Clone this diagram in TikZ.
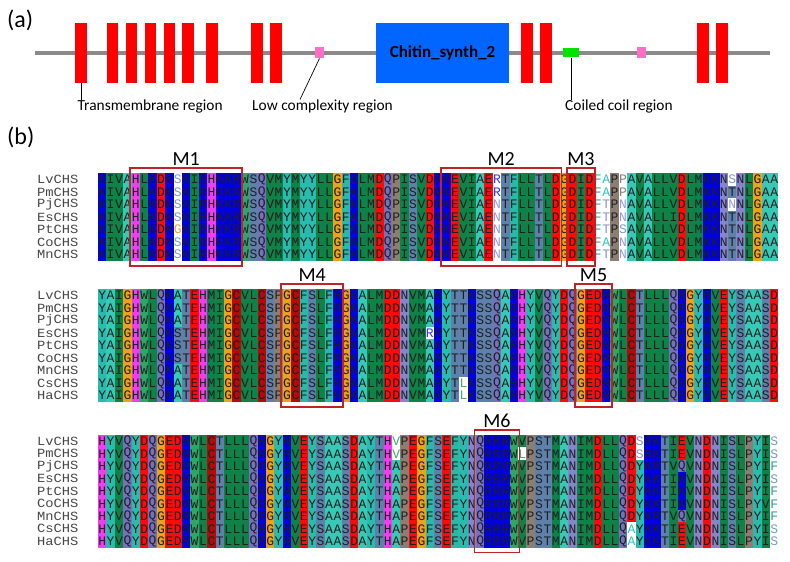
\documentclass[tikz,border=0pt]{standalone}
\usepackage{fontspec}
\setmainfont{Carlito}
\newfontfamily\seqfont{Liberation Mono}
\newfontfamily\labfont[FakeStretch=1.1]{Liberation Mono}
\usetikzlibrary{fit}

% background colours of residues (conserved cells)
\definecolor{bgA}{HTML}{38C8B6}
\definecolor{bgC}{HTML}{B40A0A}
\definecolor{bgD}{HTML}{FF0A0A}
\definecolor{bgE}{HTML}{FF0A0A}
\definecolor{bgF}{HTML}{2BB8A8}
\definecolor{bgG}{HTML}{ECA21C}
\definecolor{bgH}{HTML}{EE3FEE}
\definecolor{bgI}{HTML}{0E8247}
\definecolor{bgL}{HTML}{0E8247}
\definecolor{bgM}{HTML}{0E8247}
\definecolor{bgV}{HTML}{0E8247}
\definecolor{bgK}{HTML}{0000E0}
\definecolor{bgR}{HTML}{0000E0}
\definecolor{bgN}{HTML}{8585CC}
\definecolor{bgP}{HTML}{8C7E72}
\definecolor{bgQ}{HTML}{7472BF}
\definecolor{bgS}{HTML}{5E81AC}
\definecolor{bgT}{HTML}{5E81AC}
\definecolor{bgW}{HTML}{2FA566}
\definecolor{bgY}{HTML}{27BCAD}
% text colours of residues on white cells
\definecolor{fgA}{HTML}{2EC4C4}
\definecolor{fgC}{HTML}{C03030}
\definecolor{fgD}{HTML}{E01010}
\definecolor{fgE}{HTML}{E01010}
\definecolor{fgF}{HTML}{2A9A95}
\definecolor{fgG}{HTML}{EFA030}
\definecolor{fgH}{HTML}{D040D0}
\definecolor{fgI}{HTML}{45AA70}
\definecolor{fgL}{HTML}{45AA70}
\definecolor{fgM}{HTML}{45AA70}
\definecolor{fgV}{HTML}{45AA70}
\definecolor{fgK}{HTML}{3535F5}
\definecolor{fgR}{HTML}{3535F5}
\definecolor{fgN}{HTML}{9898D8}
\definecolor{fgP}{HTML}{8C7E72}
\definecolor{fgQ}{HTML}{8484CC}
\definecolor{fgS}{HTML}{7A9AC8}
\definecolor{fgT}{HTML}{8A92C8}
\definecolor{fgW}{HTML}{45AA70}
\definecolor{fgY}{HTML}{2EC4C4}
\definecolor{motifred}{HTML}{BE2328}
\definecolor{tmred}{HTML}{FF0000}
\definecolor{domblue}{HTML}{0066FF}
\definecolor{lcpink}{HTML}{FF6EC7}
\definecolor{ccgreen}{HTML}{00E400}
\definecolor{bbgrey}{HTML}{8A8A8A}

\newcount\seqcol
\def\seqrow#1#2#3#4{\def\seqblk{#1}\def\seqrw{#2}\def\seqtop{#3}\seqcol=0 \seqloop#4\relax}
\def\seqloop#1{\ifx\relax#1\else\seqcell#1\expandafter\seqloop\fi}
\def\seqcell#1{\ifnum`#1>`Z\relax\uppercase{\seqW#1}\else\seqC#1\fi\advance\seqcol by 1\relax}
\def\seqW#1{\node[cell, fill=white, text=fg#1] (\seqblk-\seqrw-\the\seqcol) at ({98+8.4*\the\seqcol+4.2},{\seqtop+12.5*\seqrw+6.25}) {#1};}
\def\seqC#1{\node[cell, fill=bg#1, text=black!88] (\seqblk-\seqrw-\the\seqcol) at ({98+8.4*\the\seqcol+4.2},{\seqtop+12.5*\seqrw+6.25}) {#1};}
\def\rowlabel#1#2#3#4{\node[rowlab] (#1-lab-#2) at (37,{#3+12.5*#2+6.25}) {#4};}

\tikzset{
  cell/.style={inner sep=0pt, outer sep=0pt, minimum width=8.45pt, minimum height=12.55pt,
    font=\seqfont\fontsize{13}{13}\selectfont},
  rowlab/.style={anchor=west, inner sep=0pt, font=\labfont\fontsize{12.5}{12.5}\selectfont, text=black!72},
  motif/.style={draw=motifred, line width=1.8pt, inner xsep=1.5pt, inner ysep=5pt},
  motiflab/.style={anchor=south, inner sep=1.5pt, font=\fontsize{20}{20}\selectfont},
  panel/.style={anchor=west, inner sep=0pt, font=\fontsize{24}{24}\selectfont},
  backbone/.style={draw=bbgrey, line width=4.5pt},
  tm/.style={fill=tmred, minimum width=11.5pt, minimum height=60pt, inner sep=0pt},
  lcbox/.style={fill=lcpink, minimum width=9pt, minimum height=11.5pt, inner sep=0pt},
  ccbox/.style={fill=ccgreen, minimum width=15.5pt, minimum height=9pt, inner sep=0pt},
  dombox/.style={fill=domblue, minimum width=133pt, minimum height=60pt, inner sep=0pt,
    font=\bfseries\fontsize{17}{17}\selectfont},
  annot/.style={inner sep=0pt, font=\fontsize{15.4}{15.4}\selectfont},
  leader/.style={draw=black, line width=0.7pt}
}

\begin{document}
\begin{tikzpicture}[x=1pt, y=-1pt]
\useasboundingbox (0,0) rectangle (790,562);
\fill[white] (0,0) rectangle (790,562);

% ---------------- (a) ----------------
\node[panel] (pa) at (7,20) {(a)};
\coordinate (bbL) at (35,53);
\coordinate (bbR) at (770,53);
\draw[backbone] (bbL) -- (bbR);
\foreach \i/\x in {1/81,2/112.5,3/131.5,4/150.5,5/169.5,6/188,7/212,8/257,9/276,10/527,11/546,12/703,13/722}
  \node[tm] (tm\i) at (\x,52.7) {};
\node[lcbox] (lc1) at (319.5,52.5) {};
\node[lcbox] (lc2) at (641,52.5) {};
\node[ccbox] (cc1) at (571,52.8) {};
\node[dombox] (chs) at (442.5,52.7) {Chitin\_synth\_2};

\node[annot, anchor=north west] (tmlab) at (77.5,100) {Transmembrane region};
\draw[leader] (tm1.south) -- (tm1.south |- tmlab.north);
\node[annot, anchor=north] (lclab) at (322.5,100) {Low complexity region};
\coordinate (lcend) at (300,99.5);
\draw[leader] (lc1.south) -- (lcend);
\node[annot, anchor=north west] (cclab) at (565,100) {Coiled coil region};
\draw[leader] (cc1.south) -- (cc1.south |- cclab.north);

% ---------------- (b) ----------------
\node[panel] (pb) at (7,137) {(b)};

% block 1
\def\topA{173.3}
\rowlabel{b1}{0}{\topA}{LvCHS}
\rowlabel{b1}{1}{\topA}{PmCHS}
\rowlabel{b1}{2}{\topA}{PjCHS}
\rowlabel{b1}{3}{\topA}{EsCHS}
\rowlabel{b1}{4}{\topA}{PtCHS}
\rowlabel{b1}{5}{\topA}{CoCHS}
\rowlabel{b1}{6}{\topA}{MnCHS}
\seqrow{b1}{0}{\topA}{KIVAHLKDKsKIRHKKRWSQVMYMYYLLGFKLMDQPISVDRKEVIAErTFLLTLDGDIDfaPpAVALLVDLMKKNsNLGAA}
\seqrow{b1}{1}{\topA}{KIVAHLKDKsKIRHKKRWSQVMYMYYLLGFKLMDQPISVDRKEVIAErTFLLTLDGDIDfaPpAVALLVDLMKKNTNLGAA}
\seqrow{b1}{2}{\topA}{KIVAHLKDKsKIRHKKRWSQVMYMYYLLGFKLMDQPISVDRKEVIAEnTFLLTLDGDIDftPnAVALLVDLMKKNnNLGAA}
\seqrow{b1}{3}{\topA}{KIVAHLKDKsKIRHKKRWSQVMYMYYLLGFKLMDQPISVDRKEVIAEnTFLLTLDGDIDftPnAVALLIDLMKKNTNLGAA}
\seqrow{b1}{4}{\topA}{KIVAHLKDKgKIRHKKRWSQVMYMYYLLGFKLMDQPISVDRKEVIAEnTFLLTLDGDIDftPsAVALLVDLMKKNTNLGAA}
\seqrow{b1}{5}{\topA}{KIVAHLKDKsKIRHKKRWSQVMYMYYLLGFKLMDQPISVDRKEVIAEnTFLLTLDGDIDfaPnAVALLVDLMKKNTNLGAA}
\seqrow{b1}{6}{\topA}{KIVAHLKDKsKIRHKKRWSQVMYMYYLLGFKLMDQPISVDRKEVIAEnTFLLTLDGDIDftPnAVALLVDLMKKNTNLGAA}

% block 2
\def\topB{289.3}
\rowlabel{b2}{0}{\topB}{LvCHS}
\rowlabel{b2}{1}{\topB}{PmCHS}
\rowlabel{b2}{2}{\topB}{PjCHS}
\rowlabel{b2}{3}{\topB}{EsCHS}
\rowlabel{b2}{4}{\topB}{PtCHS}
\rowlabel{b2}{5}{\topB}{CoCHS}
\rowlabel{b2}{6}{\topB}{MnCHS}
\rowlabel{b2}{7}{\topB}{CsCHS}
\rowlabel{b2}{8}{\topB}{HaCHS}
\seqrow{b2}{0}{\topB}{YAIGHWLQKATEHMIGCVLCSPGCFSLFRGKALMDDNVMAKYTTKSSQARHYVQYDQGEDRWLCTLLLQRGYRVEYSAASD}
\seqrow{b2}{1}{\topB}{YAIGHWLQKATEHMIGCVLCSPGCFSLFRGKALMDDNVMAKYTTKSSQARHYVQYDQGEDRWLCTLLLQRGYRVEYSAASD}
\seqrow{b2}{2}{\topB}{YAIGHWLQKATEHMIGCVLCSPGCFSLFRGKALMDDNVMAKYTTKSSQARHYVQYDQGEDRWLCTLLLQRGYRVEYSAASD}
\seqrow{b2}{3}{\topB}{YAIGHWLQKSTEHMIGCVLCSPGCFSLFRGKALMDDNVMrRYTTKSSQARHYVQYDQGEDRWLCTLLLQRGYRVEYSAASD}
\seqrow{b2}{4}{\topB}{YAIGHWLQKSTEHMIGCVLCSPGCFSLFRGKALMDDNVMAKYTTKSSQARHYVQYDQGEDRWLCTLLLQRGYRVEYSAASD}
\seqrow{b2}{5}{\topB}{YAIGHWLQKSTEHMIGCVLCSPGCFSLFRGKALMDDNVMARYTTKSSQARHYVQYDQGEDRWLCTLLLQRGYRVEYSAASD}
\seqrow{b2}{6}{\topB}{YAIGHWLQKATEHMIGCVLCSPGCFSLFRGKALMDDNVMAKYTTKSSQARHYVQYDQGEDRWLCTLLLQRGYRVEYSAASD}
\seqrow{b2}{7}{\topB}{YAIGHWLQKATEHMIGCVLCSPGCFSLFRGKALMDDNVMARYTlKSSQARHYVQYDQGEDRWLCTLLLQRGYRVEYSAASD}
\seqrow{b2}{8}{\topB}{YAIGHWLQKATEHMIGCVLCSPGCFSLFRGKALMDDNVMARYTlKSSQARHYVQYDQGEDRWLCTLLLQRGYRVEYSAASD}

% block 3
\def\topC{435}
\rowlabel{b3}{0}{\topC}{LvCHS}
\rowlabel{b3}{1}{\topC}{PmCHS}
\rowlabel{b3}{2}{\topC}{PjCHS}
\rowlabel{b3}{3}{\topC}{EsCHS}
\rowlabel{b3}{4}{\topC}{PtCHS}
\rowlabel{b3}{5}{\topC}{CoCHS}
\rowlabel{b3}{6}{\topC}{MnCHS}
\rowlabel{b3}{7}{\topC}{CsCHS}
\rowlabel{b3}{8}{\topC}{HaCHS}
\seqrow{b3}{0}{\topC}{HYVQYDQGEDRWLCTLLLQRGYRVEYSAASDAYTHvPEGFSEFYNQRRRWVPSTMANIMDLLQDsRKTIEVNDNISLPYIs}
\seqrow{b3}{1}{\topC}{HYVQYDQGEDRWLCTLLLQRGYRVEYSAASDAYTHvPEGFSEFYNQRRRWlPSTMANIMDLLQDsRKTIEVNDNISLPYIs}
\seqrow{b3}{2}{\topC}{HYVQYDQGEDRWLCTLLLQRGYRVEYSAASDAYTHAPEGFSEFYNQRRRWVPSTMANIMDLLQDYKRTVQVNDNISLPYIf}
\seqrow{b3}{3}{\topC}{HYVQYDQGEDRWLCTLLLQRGYRVEYSAASDAYTHAPEGFSEFYNQRRRWVPSTMANIMDLLQDYKKTIKVNDNISLPYIs}
\seqrow{b3}{4}{\topC}{HYVQYDQGEDRWLCTLLLQRGYRVEYSAASDAYTHAPEGFSEFYNQRRRWVPSTMANIMDLLQDYKKTIKVNDNISLPYIf}
\seqrow{b3}{5}{\topC}{HYVQYDQGEDRWLCTLLLQRGYRVEYSAASDAYTHAPEGFSEFYNQRRRWVPSTMANIMDLLQDYKKTIKVNDNISLPYVf}
\seqrow{b3}{6}{\topC}{HYVQYDQGEDRWLCTLLLQRGYRVEYSAASDAYTHAPEGFSEFYNQRRRWVPSTMANIMDLLQDYKRTVQVNDNISLPYIf}
\seqrow{b3}{7}{\topC}{HYVQYDQGEDRWLCTLLLQRGYRVEYSAASDAYTHAPEGFSEFYNQRRRWVPSTMANIMDLLQaYKKTIEVNDNISLPYIs}
\seqrow{b3}{8}{\topC}{HYVQYDQGEDRWLCTLLLQRGYRVEYSAASDAYTHAPEGFSEFYNQRRRWVPSTMANIMDLLQaYKKTIEVNDNISLPYIs}

% motif boxes
\node[motif, fit=(b1-0-4)(b1-6-16)] (m1) {};
\node[motif, fit=(b1-0-41)(b1-6-54)] (m2) {};
\node[motif, fit=(b1-0-56)(b1-6-58)] (m3) {};
\node[motif, fit=(b2-0-22)(b2-8-28)] (m4) {};
\node[motif, fit=(b2-0-57)(b2-8-60)] (m5) {};
\node[motif, fit=(b3-0-45)(b3-8-49)] (m6) {};
\node[motiflab] (m1lab) at (m1.north) {M1};
\node[motiflab] (m2lab) at (m2.north) {M2};
\node[motiflab] (m3lab) at (m3.north) {M3};
\node[motiflab] (m4lab) at (m4.north) {M4};
\node[motiflab] (m5lab) at (m5.north) {M5};
\node[motiflab] (m6lab) at (m6.north) {M6};
\end{tikzpicture}
\end{document}
